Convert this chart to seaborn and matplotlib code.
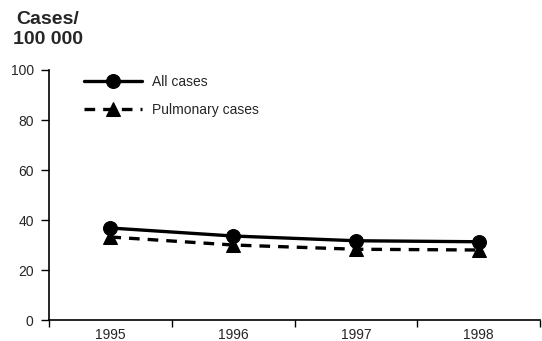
import pandas as pd
from matplotlib import pyplot as plt
import seaborn as sns

years = ['1995', '1996', '1997', '1998']
all_cases = [36.8, 33.6, 31.7, 31.3]
pulmonary_cases = [33.2, 30.0, 28.3, 28.0]
series_names = ['All cases', 'Pulmonary cases']

df = pd.DataFrame({
    'Year': years * 2,
    'Rate': all_cases + pulmonary_cases,
    'Series': [series_names[0]] * 4 + [series_names[1]] * 4,
})

sns.set_style('ticks')
plt.rcParams['font.family'] = ['Liberation Sans', 'DejaVu Sans']

fig = plt.figure(figsize=(5.42, 3.41), dpi=100)
ax = fig.add_axes([49 / 542, 1 - 320 / 341, 491 / 542, 250 / 341])

sns.lineplot(data=df, x='Year', y='Rate', style='Series', ax=ax,
             color='black', linewidth=2.4,
             markers={'All cases': 'o', 'Pulmonary cases': '^'},
             dashes={'All cases': '', 'Pulmonary cases': (3.2, 2.4)},
             markersize=10, markeredgecolor='black')

ax.set_xlim(-0.5, 3.5)
ax.set_ylim(0, 100)
ax.set_yticks([0, 20, 40, 60, 80, 100])
ax.set_xticks([-0.5, 0.5, 1.5, 2.5, 3.5])
ax.set_xticklabels([])
ax.set_xticks(range(len(years)), minor=True)
ax.set_xticklabels(years, minor=True)
ax.tick_params(axis='x', which='major', bottom=True, direction='out', length=5, width=1, color='black')
ax.tick_params(axis='x', which='minor', bottom=True, length=0, pad=6, labelsize=10)
ax.tick_params(axis='y', left=True, direction='out', length=6, width=1, color='black', labelsize=10, pad=5)
ax.set_xlabel('')
ax.set_ylabel('')

for side in ['top', 'right']:
    ax.spines[side].set_visible(False)
for side in ['left', 'bottom']:
    ax.spines[side].set_color('black')
    ax.spines[side].set_linewidth(1.2)

ax.legend(loc='upper left', bbox_to_anchor=(0.045, 1.03), frameon=False,
          fontsize=10, handlelength=4.2, handletextpad=0.7, labelspacing=1.0)

fig.text(0.088, 0.968, 'Cases/\n100 000', fontsize=14, fontweight='bold',
         va='top', ha='center', multialignment='center', linespacing=1.2)

plt.savefig('out.png', dpi=100)
